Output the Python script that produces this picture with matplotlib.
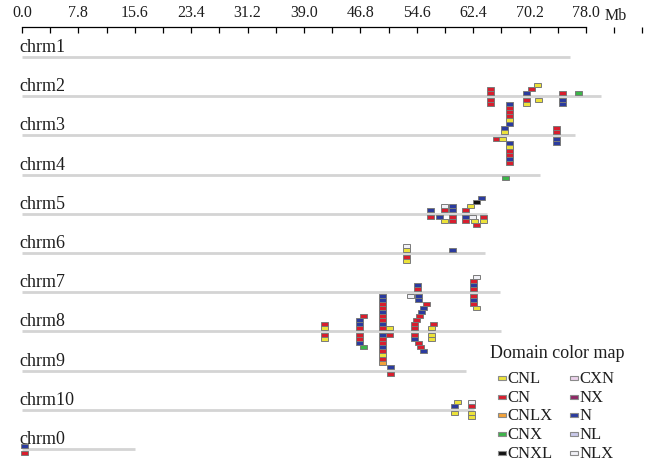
import numpy as np
import matplotlib
matplotlib.use("Agg")
import matplotlib.pyplot as plt
from matplotlib.patches import Rectangle
from matplotlib.ticker import MultipleLocator, FormatStrFormatter

plt.rcParams['font.family'] = ['Liberation Serif', 'DejaVu Serif']

# chromosomes (Mb)
chrom_names = ["chrm1", "chrm2", "chrm3", "chrm4", "chrm5", "chrm6",
               "chrm7", "chrm8", "chrm9", "chrm10", "chrm0"]
chrom_len = [75.8, 80.1, 76.5, 71.6, 64.3, 64.0, 66.1, 66.2, 61.4, 62.5, 15.6]

domain_names = ["CNL", "CN", "CNLX", "CNX", "CNXL", "CXN", "NX", "N", "NL", "NLX"]
domain_colors = ["#ece23a", "#d81e2e", "#f2a23a", "#3db54a", "#111111",
                 "#ecd3ec", "#8e2866", "#2b3b9e", "#c9c9ea", "#f1f1f6"]

# genes: (position Mb, stack level: + above / - below, domain)
genes_chrm1 = []
genes_chrm2 = [(64.8, 1, "CN"), (64.8, 2, "CN"), (64.8, -1, "CN"), (64.8, -2, "CN"),
               (69.8, 1, "N"), (70.5, 2, "CN"), (71.3, 3, "CNL"),
               (69.8, -1, "CN"), (69.8, -2, "CNL"), (71.4, -1, "CNL"),
               (74.8, 1, "CN"), (74.8, -1, "N"), (74.8, -2, "N"), (77.0, 1, "CNX")]
genes_chrm3 = [(66.7, 1, "CNL"), (66.7, 2, "N"), (67.4, 3, "N"), (67.4, 4, "CNL"),
               (67.4, 5, "CN"), (67.4, 6, "CN"), (67.4, 7, "CN"), (67.4, 8, "N"),
               (65.6, -1, "CN"), (66.5, -1, "CNL"), (67.4, -2, "N"), (67.4, -3, "CNL"),
               (67.4, -4, "CN"), (67.4, -5, "CN"), (67.4, -6, "N"), (67.4, -7, "CN"),
               (73.9, 1, "CN"), (73.9, 2, "CN"), (73.9, -1, "N"), (73.9, -2, "N")]
genes_chrm4 = [(66.9, -1, "CNX")]
genes_chrm5 = [(56.5, 1, "N"), (56.5, -1, "CN"), (57.7, -1, "N"), (58.5, -2, "CNL"),
               (58.5, 1, "CN"), (58.5, 2, "NLX"), (59.6, 1, "N"), (59.6, 2, "N"),
               (59.6, -1, "CN"), (59.6, -2, "CN"),
               (61.4, 1, "CN"), (62.1, 2, "CNL"), (62.8, 3, "CNXL"), (63.6, 4, "N"),
               (61.3, -1, "N"), (61.3, -2, "CN"), (62.3, -1, "NLX"), (62.6, -2, "CNL"),
               (62.9, -3, "CN"), (63.8, -1, "CN"), (63.8, -2, "CNL")]
genes_chrm6 = [(53.2, 1, "CNL"), (53.2, 2, "NLX"), (53.2, -1, "CN"), (53.2, -2, "CNL"),
               (59.5, 1, "N")]
genes_chrm7 = [(54.7, 1, "CN"), (54.7, 2, "N"), (53.7, -1, "NLX"), (54.8, -1, "N"),
               (54.8, -2, "N"),
               (62.4, 1, "CN"), (62.4, 2, "N"), (62.5, 3, "CN"), (62.8, 4, "NLX"),
               (62.4, -1, "CN"), (62.4, -2, "N"), (62.5, -3, "CN"), (62.8, -4, "CNL")]
col8_up = ["CN", "N", "CN", "CN", "N", "CN", "CN", "N", "N"]
col8_down = ["N", "CN", "CN", "N", "CN", "CNL", "CN", "CNLX"]
genes_chrm8 = ([(41.9, 1, "CNL"), (41.9, 2, "CN"), (41.9, -1, "CN"), (41.9, -2, "CNL"),
                (46.7, 1, "CN"), (46.7, 2, "N"), (46.7, 3, "N"), (47.3, 4, "CN"),
                (46.7, -1, "CN"), (46.7, -2, "CN"), (46.7, -3, "N"), (47.3, -4, "CNX"),
                (50.8, 1, "CNL"), (50.8, -1, "CN"),
                (54.3, 1, "CN"), (54.3, 2, "CN"), (54.6, 3, "CN"), (55.0, 4, "CN"),
                (55.3, 5, "N"), (55.6, 6, "N"), (55.9, 7, "CN"),
                (54.3, -1, "CN"), (54.3, -2, "N"), (54.8, -3, "CN"), (55.1, -4, "CN"),
                (55.5, -5, "N"),
                (56.7, 1, "CNL"), (56.9, 2, "CN"), (56.7, -1, "CNL"), (56.7, -2, "CNL")]
               + [(49.9, i + 1, d) for i, d in enumerate(col8_up)]
               + [(49.9, -(i + 1), d) for i, d in enumerate(col8_down)])
genes_chrm9 = [(51.0, 1, "N"), (51.0, -1, "CN")]
genes_chrm10 = [(59.8, 1, "N"), (60.2, 2, "CNL"), (59.8, -1, "CNL"),
                (62.2, 1, "CN"), (62.2, 2, "NLX"), (62.2, -1, "CNL"), (62.2, -2, "CNL")]
genes_chrm0 = [(0.3, 1, "N"), (0.3, -1, "CN")]

all_genes = [genes_chrm1, genes_chrm2, genes_chrm3, genes_chrm4, genes_chrm5, genes_chrm6,
             genes_chrm7, genes_chrm8, genes_chrm9, genes_chrm10, genes_chrm0]

# layout (y in pixel-like units, x in Mb)
px_per_mb = 7.23
row0, row_gap = 57.0, 39.2
cell_w, cell_h, gap = 0.97, 4.0, 1.5
color_of = dict(zip(domain_names, domain_colors))
text_col = "#1e1e1e"

fig = plt.figure(figsize=(6.45, 4.61), dpi=100)
ax = fig.add_axes([0, 0, 1, 1])
ax.set_xlim(-22 / px_per_mb, (645 - 22) / px_per_mb)
ax.set_ylim(461, 0)

for i, (name, length) in enumerate(zip(chrom_names, chrom_len)):
    y = row0 + i * row_gap
    ax.hlines(y, 0, length, color="#d4d4d4", lw=2, zorder=1)
    ax.text(-0.3, y - 5, name, fontsize=13, va="baseline", ha="left", color=text_col)
    for pos, lvl, dom in all_genes[i]:
        if lvl > 0:
            top = y - gap - lvl * cell_h
        else:
            top = y + gap + (-lvl - 1) * cell_h
        ax.add_patch(Rectangle((pos - cell_w / 2, top), cell_w, cell_h,
                               facecolor=color_of[dom], edgecolor="#7a7a7a",
                               lw=0.7, zorder=3))

# ruler on top
for s in ["left", "right", "bottom"]:
    ax.spines[s].set_visible(False)
ax.spines["top"].set_position(("data", 27))
ax.spines["top"].set_bounds(0, 78)
ax.spines["top"].set_linewidth(0.9)
ax.yaxis.set_visible(False)
ax.xaxis.set_ticks_position("top")
ax.xaxis.set_major_locator(MultipleLocator(7.8))
ax.xaxis.set_minor_locator(MultipleLocator(3.9))
ax.xaxis.set_major_formatter(FormatStrFormatter("%.1f"))
ax.tick_params(axis="x", which="both", direction="in", length=4, width=0.9,
               top=True, bottom=False, labeltop=True, labelbottom=False,
               labelsize=11.5, pad=4, labelcolor=text_col)
ax.set_xticks([t for t in np.arange(0, 78.01, 7.8)])
ax.text(80.6, 20, "Mb", fontsize=11.5, va="baseline", ha="left", color=text_col)

# legend
ax.text(64.7, 358, "Domain color map", fontsize=13, va="baseline", ha="left", color=text_col)
for k, (name, col) in enumerate(zip(domain_names, domain_colors)):
    cx = 65.85 if k < 5 else 75.8
    ry = 378 + (k % 5) * 18.7
    ax.add_patch(Rectangle((cx, ry - 2), 1.1, 4, facecolor=col,
                           edgecolor="#8a8a8a", lw=0.8))
    ax.text(cx + 1.35, ry + 5, name, fontsize=12, va="baseline", ha="left", color=text_col)

fig.savefig("out.png", dpi=100)
